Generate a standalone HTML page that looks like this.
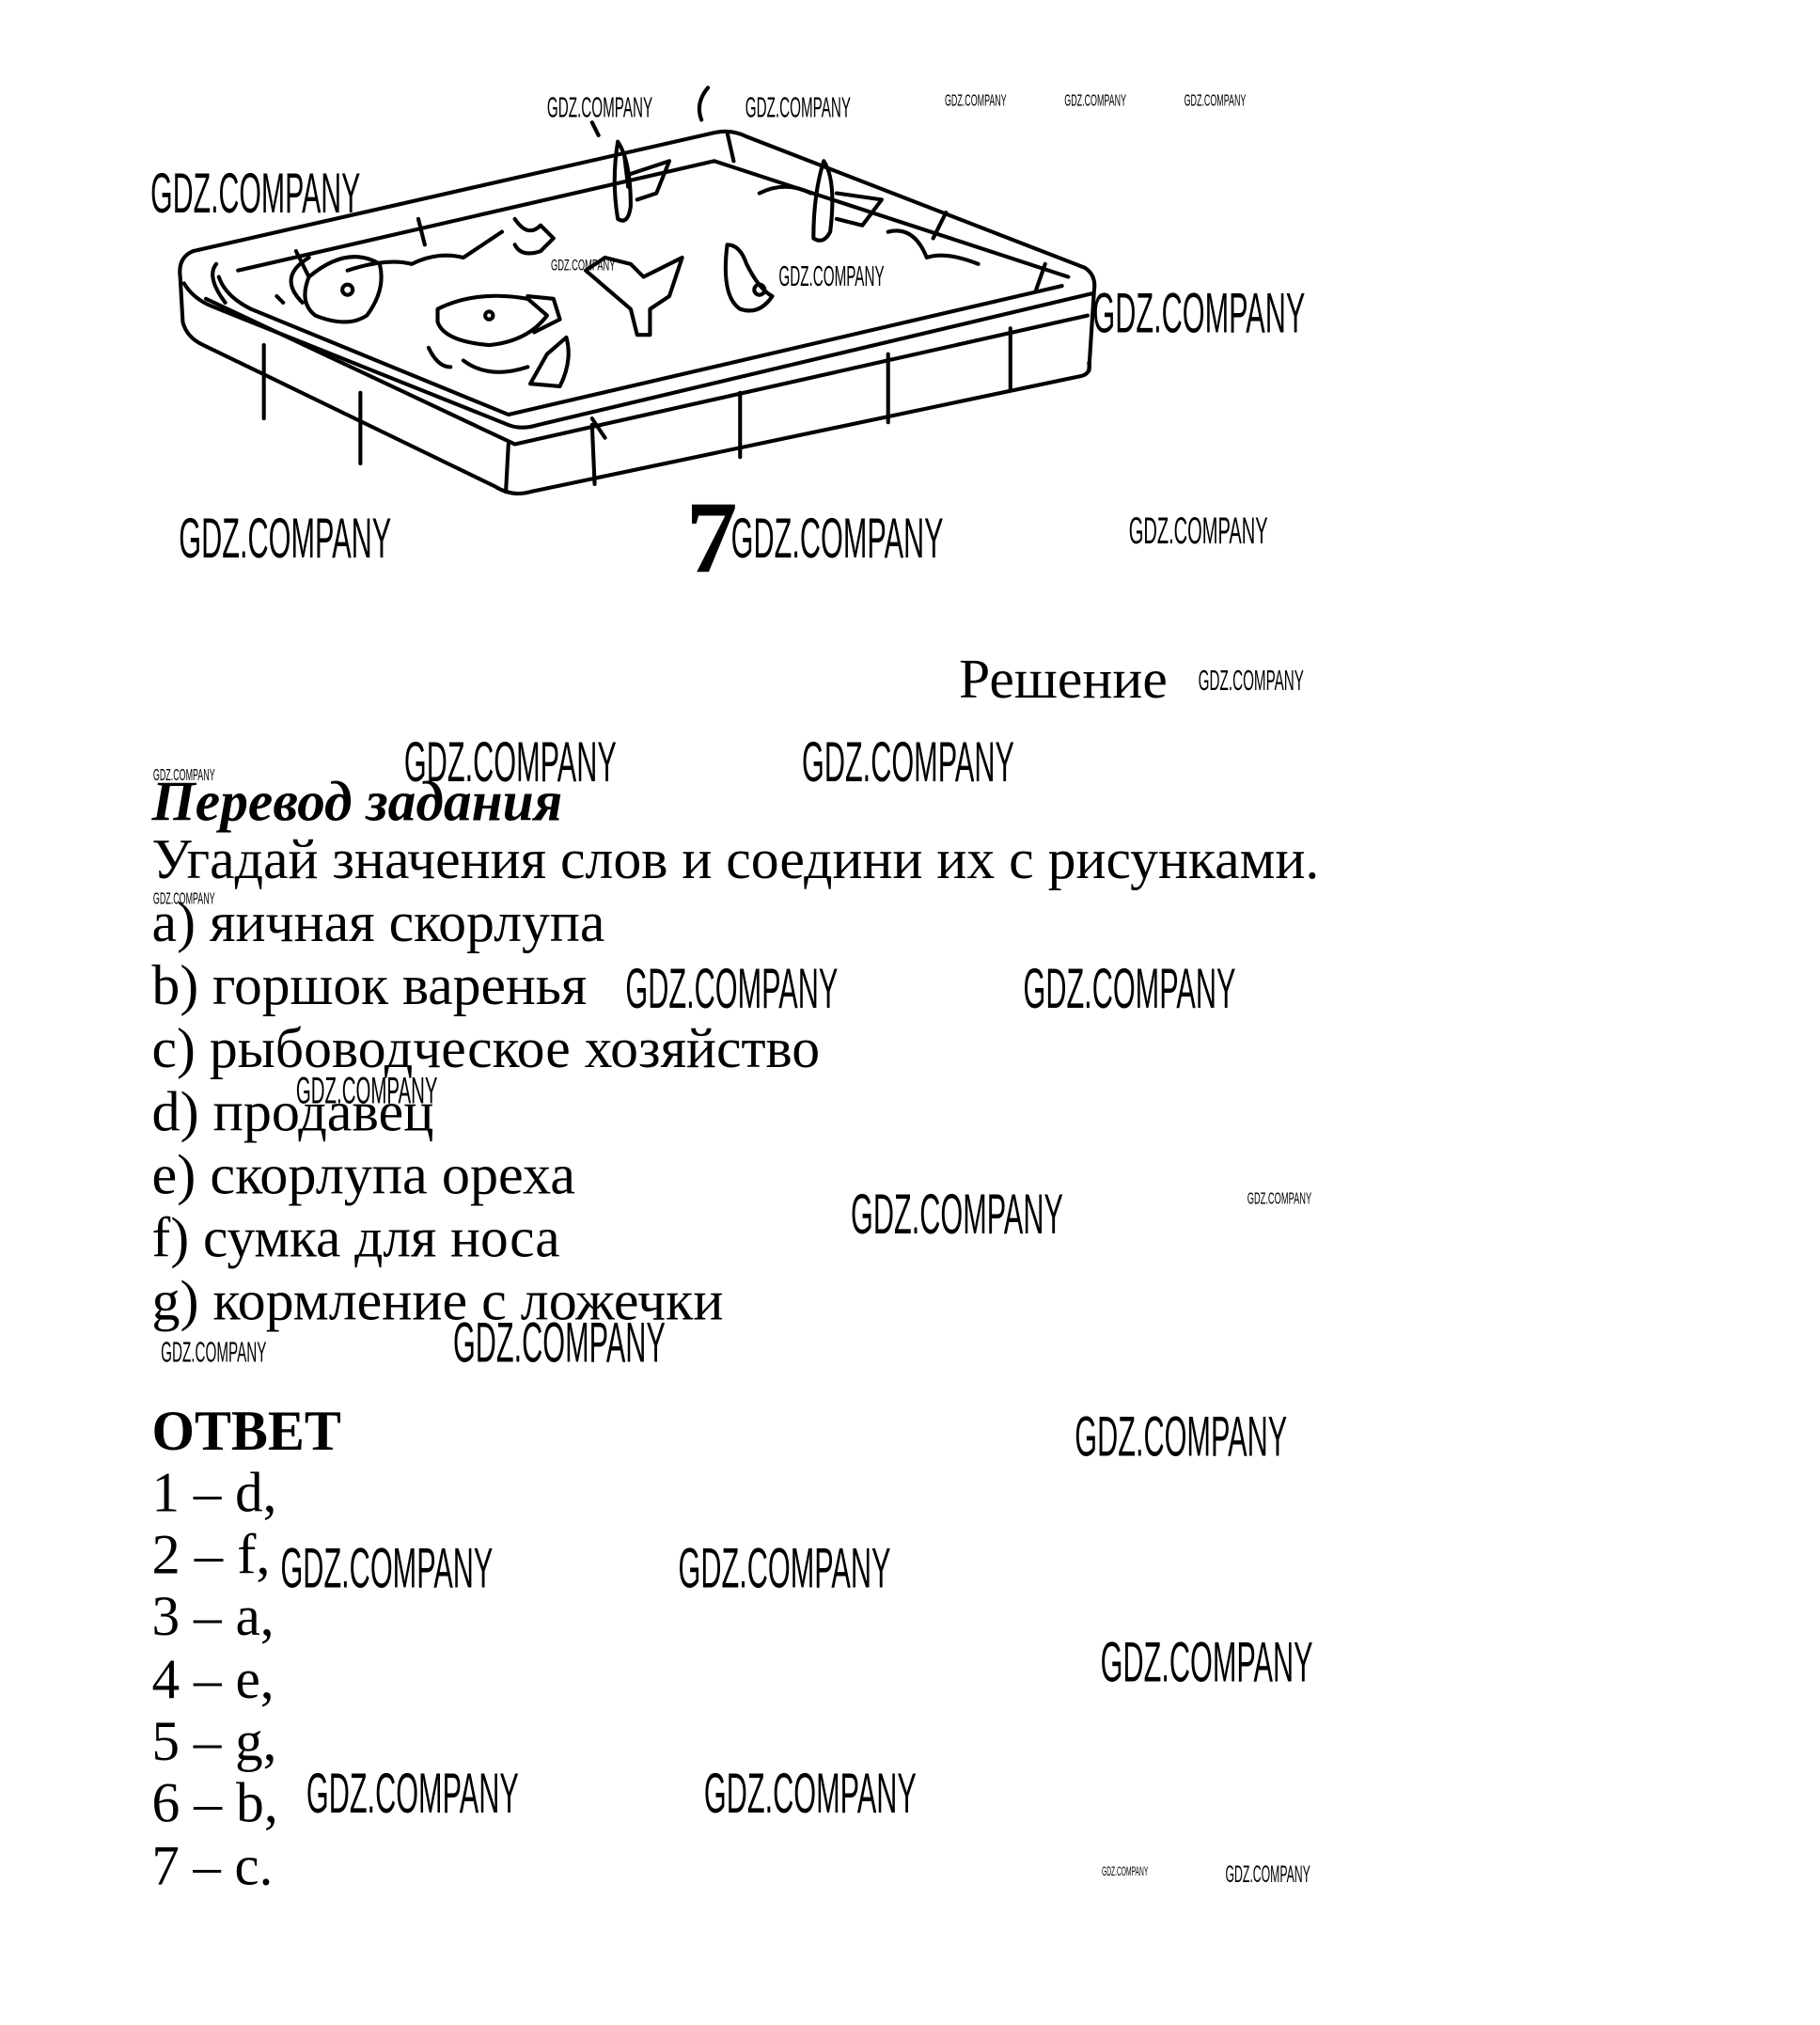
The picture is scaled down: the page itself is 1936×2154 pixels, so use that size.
<!DOCTYPE html>
<html><head><meta charset="utf-8"><style>
html,body{margin:0;padding:0;background:#fff}
svg{display:block}
.t{font-family:"Liberation Serif",serif;fill:#000}
.w{font-family:"Liberation Sans",sans-serif;fill:#000;font-weight:normal}
</style></head><body>
<svg width="1936" height="2154" viewBox="0 0 1414 1573" xmlns="http://www.w3.org/2000/svg">
<rect width="1414" height="1573" fill="#fff"/>
<g fill="none" stroke="#000" stroke-width="3" stroke-linejoin="round" stroke-linecap="round">
<path d="M150,195 L555,103 Q568,100 580,106 L843,208 Q852,214 850,226 L846,288"/>
<path d="M150,195 Q138,200 140,215 L142,250 Q145,262 158,268 L385,378 Q398,386 412,382 L840,292 Q848,290 846,282"/>
<path d="M143,220 Q150,232 165,238 L395,330 Q405,334 418,330 L848,228"/>
<path d="M160,232 L400,345 L845,245"/>
<path d="M185,210 L555,125 L830,215"/>
<path d="M170,215 Q175,230 195,240 L395,322 L825,222"/>
<path d="M168,205 Q160,215 175,235"/>
<path d="M205,268 L205,325"/><path d="M280,305 L280,360"/><path d="M395,345 L393,382"/>
<path d="M460,330 L462,376"/><path d="M575,305 L575,355"/><path d="M690,275 L690,328"/>
<path d="M785,255 L785,302"/><path d="M230,195 L240,215"/><path d="M325,170 L330,190"/>
<path d="M485,120 L488,145"/><path d="M565,103 L570,125"/><path d="M735,165 L725,185"/>
<path d="M812,205 L805,225"/><path d="M460,325 L470,340"/>
<path d="M240,215 Q270,190 295,205 Q300,225 285,245 Q270,255 245,245 Q232,235 240,215"/>
<circle cx="270" cy="225" r="4"/>
<path d="M340,240 Q370,225 410,232 L425,245 Q410,265 380,268 Q345,265 340,250 Z"/>
<path d="M410,230 L430,232 L435,248 L415,258"/>
<circle cx="380" cy="245" r="3"/>
<path d="M565,190 Q575,190 580,205 Q590,225 600,230 Q590,245 575,240 Q560,230 565,190"/>
<circle cx="590" cy="225" r="4"/>
<path d="M480,110 Q490,125 490,160 Q488,175 480,170 Q475,140 480,110"/>
<path d="M490,135 L520,125 L510,150 L495,155"/>
<path d="M455,210 L470,200 L490,205 L500,215 L530,200 L520,230 L505,240 L505,260 L495,260 L490,240 Z"/>
<path d="M640,125 Q650,140 645,180 Q640,190 632,185 Q632,150 640,125"/>
<path d="M650,150 L685,155 L670,175 L650,170"/>
<path d="M440,262 Q445,280 435,300 L412,298 L425,275 Z"/>
<path d="M400,170 Q410,185 420,175 L430,185 L420,195 Q405,200 400,190"/>
<path d="M220,235 L215,230"/><path d="M235,235 Q215,215 240,200"/>
<path d="M270,210 Q300,200 320,205 Q340,195 360,200 L390,180"/>
<path d="M590,150 Q610,140 630,150"/><path d="M690,180 Q710,175 720,200 Q735,195 760,205"/>
<path d="M360,280 Q380,295 410,285"/><path d="M333,270 Q340,285 350,285"/>
<path d="M545,93 Q540,80 550,68"/><path d="M460,95 L465,105"/>
</g>
<text class="t" x="533" y="444" font-size="80" font-weight="bold">7</text>

<g class="t" transform="translate(0,4)">
<text x="745" y="538" font-size="43" textLength="162" lengthAdjust="spacingAndGlyphs">Решение</text>
<text x="118" y="633" font-size="44" font-weight="bold" font-style="italic" textLength="319" lengthAdjust="spacingAndGlyphs">Перевод задания</text>
<text x="118" y="678" font-size="44" textLength="907" lengthAdjust="spacingAndGlyphs">Угадай значения слов и соедини их с рисунками.</text>
<text x="118" y="727" font-size="44" textLength="352" lengthAdjust="spacingAndGlyphs">a) яичная скорлупа</text>
<text x="118" y="776" font-size="44" textLength="338" lengthAdjust="spacingAndGlyphs">b) горшок варенья</text>
<text x="118" y="825" font-size="44" textLength="519" lengthAdjust="spacingAndGlyphs">c) рыбоводческое хозяйство</text>
<text x="118" y="874" font-size="44" textLength="219" lengthAdjust="spacingAndGlyphs">d) продавец</text>
<text x="118" y="923" font-size="44" textLength="329" lengthAdjust="spacingAndGlyphs">e) скорлупа ореха</text>
<text x="118" y="972" font-size="44" textLength="317" lengthAdjust="spacingAndGlyphs">f) сумка для носа</text>
<text x="118" y="1021" font-size="44" textLength="444" lengthAdjust="spacingAndGlyphs">g) кормление с ложечки</text>
<text x="118" y="1122" font-size="44" font-weight="bold" textLength="147" lengthAdjust="spacingAndGlyphs">ОТВЕТ</text>
<text x="118" y="1170" font-size="44" textLength="97" lengthAdjust="spacingAndGlyphs">1 – d,</text>
<text x="118" y="1218" font-size="44" textLength="92" lengthAdjust="spacingAndGlyphs">2 – f,</text>
<text x="118" y="1266" font-size="44" textLength="95" lengthAdjust="spacingAndGlyphs">3 – a,</text>
<text x="118" y="1315" font-size="44" textLength="95" lengthAdjust="spacingAndGlyphs">4 – e,</text>
<text x="118" y="1363" font-size="44" textLength="97" lengthAdjust="spacingAndGlyphs">5 – g,</text>
<text x="118" y="1411" font-size="44" textLength="98" lengthAdjust="spacingAndGlyphs">6 – b,</text>
<text x="118" y="1460" font-size="44" textLength="94" lengthAdjust="spacingAndGlyphs">7 – c.</text>
</g>

<g class="w" transform="translate(1,3)">
<text x="424" y="88" font-size="22" textLength="82" lengthAdjust="spacingAndGlyphs">GDZ.COMPANY</text>
<text x="578" y="88" font-size="22" textLength="82" lengthAdjust="spacingAndGlyphs">GDZ.COMPANY</text>
<text x="733" y="79" font-size="13" textLength="48" lengthAdjust="spacingAndGlyphs">GDZ.COMPANY</text>
<text x="826" y="79" font-size="13" textLength="48" lengthAdjust="spacingAndGlyphs">GDZ.COMPANY</text>
<text x="919" y="79" font-size="13" textLength="48" lengthAdjust="spacingAndGlyphs">GDZ.COMPANY</text>
<text x="116" y="162" font-size="44" textLength="163" lengthAdjust="spacingAndGlyphs">GDZ.COMPANY</text>
<text x="427" y="207" font-size="12" textLength="50" lengthAdjust="spacingAndGlyphs">GDZ.COMPANY</text>
<text x="604" y="219" font-size="22" textLength="82" lengthAdjust="spacingAndGlyphs">GDZ.COMPANY</text>
<text x="848" y="255" font-size="44" textLength="165" lengthAdjust="spacingAndGlyphs">GDZ.COMPANY</text>
<text x="138" y="430" font-size="44" textLength="165" lengthAdjust="spacingAndGlyphs">GDZ.COMPANY</text>
<text x="567" y="430" font-size="44" textLength="165" lengthAdjust="spacingAndGlyphs">GDZ.COMPANY</text>
<text x="876" y="419" font-size="29" textLength="108" lengthAdjust="spacingAndGlyphs">GDZ.COMPANY</text>
<text x="930" y="533" font-size="22" textLength="82" lengthAdjust="spacingAndGlyphs">GDZ.COMPANY</text>
<text x="118" y="603" font-size="13" textLength="48" lengthAdjust="spacingAndGlyphs">GDZ.COMPANY</text>
<text x="313" y="604" font-size="44" textLength="165" lengthAdjust="spacingAndGlyphs">GDZ.COMPANY</text>
<text x="622" y="604" font-size="44" textLength="165" lengthAdjust="spacingAndGlyphs">GDZ.COMPANY</text>
<text x="118" y="699" font-size="13" textLength="48" lengthAdjust="spacingAndGlyphs">GDZ.COMPANY</text>
<text x="485" y="780" font-size="44" textLength="165" lengthAdjust="spacingAndGlyphs">GDZ.COMPANY</text>
<text x="794" y="780" font-size="44" textLength="165" lengthAdjust="spacingAndGlyphs">GDZ.COMPANY</text>
<text x="229" y="854" font-size="29" textLength="110" lengthAdjust="spacingAndGlyphs">GDZ.COMPANY</text>
<text x="660" y="955" font-size="44" textLength="165" lengthAdjust="spacingAndGlyphs">GDZ.COMPANY</text>
<text x="968" y="932" font-size="13" textLength="50" lengthAdjust="spacingAndGlyphs">GDZ.COMPANY</text>
<text x="124" y="1055" font-size="22" textLength="82" lengthAdjust="spacingAndGlyphs">GDZ.COMPANY</text>
<text x="351" y="1055" font-size="44" textLength="165" lengthAdjust="spacingAndGlyphs">GDZ.COMPANY</text>
<text x="834" y="1128" font-size="44" textLength="165" lengthAdjust="spacingAndGlyphs">GDZ.COMPANY</text>
<text x="217" y="1230" font-size="44" textLength="165" lengthAdjust="spacingAndGlyphs">GDZ.COMPANY</text>
<text x="526" y="1230" font-size="44" textLength="165" lengthAdjust="spacingAndGlyphs">GDZ.COMPANY</text>
<text x="854" y="1303" font-size="44" textLength="165" lengthAdjust="spacingAndGlyphs">GDZ.COMPANY</text>
<text x="237" y="1405" font-size="44" textLength="165" lengthAdjust="spacingAndGlyphs">GDZ.COMPANY</text>
<text x="546" y="1405" font-size="44" textLength="165" lengthAdjust="spacingAndGlyphs">GDZ.COMPANY</text>
<text x="855" y="1454" font-size="10" textLength="36" lengthAdjust="spacingAndGlyphs">GDZ.COMPANY</text>
<text x="951" y="1459" font-size="18" textLength="66" lengthAdjust="spacingAndGlyphs">GDZ.COMPANY</text>
</g>
</svg>
</body></html>
